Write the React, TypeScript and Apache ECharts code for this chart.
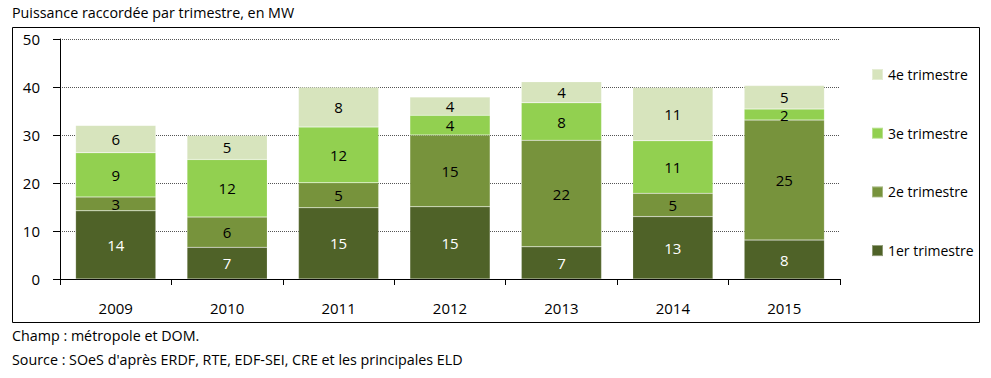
import React, { useEffect, useRef } from "react";
import * as echarts from "echarts";

const years = ["2009", "2010", "2011", "2012", "2013", "2014", "2015"];
const q1 = [14.2, 6.6, 14.85, 15.06, 6.7, 13.0, 8.1];
const q2 = [2.9, 6.3, 5.2, 14.94, 22.2, 4.85, 25.0];
const q3 = [9.2, 12.0, 11.6, 4.1, 7.8, 10.95, 2.3];
const q4 = [5.7, 5.0, 8.3, 3.8, 4.4, 11.1, 4.9];
const seriesNames = ["1er trimestre", "2e trimestre", "3e trimestre", "4e trimestre"];
const seriesColors = ["#4f6228", "#77933c", "#92d050", "#d7e4bd"];
const labelColors = ["#ffffff", "#000000", "#000000", "#000000"];
const yTicks = { min: 0, max: 50, interval: 10 };
const title = "Puissance raccordée par trimestre, en MW";
const note1 = "Champ : métropole et DOM.";
const note2 = "Source : SOeS d'après ERDF, RTE, EDF-SEI, CRE et les principales ELD";

const FONT = "'Open Sans', sans-serif";

export default function App() {
  const ref = useRef<HTMLDivElement>(null);
  useEffect(() => {
    if (!ref.current) return;
    const chart = echarts.init(ref.current, undefined, { renderer: "svg" });
    const data = [q1, q2, q3, q4];
    chart.setOption({
      animation: false,
      backgroundColor: "#ffffff",
      textStyle: { fontFamily: FONT },
      grid: { left: 60, right: 151, top: 39, bottom: 99, containLabel: false },
      legend: {
        orient: "vertical",
        left: 866,
        top: 62,
        itemWidth: 11,
        itemHeight: 11,
        itemGap: 43.7,
        icon: "rect",
        data: ["4e trimestre", "3e trimestre", "2e trimestre", "1er trimestre"],
        textStyle: { fontFamily: FONT, fontSize: 14, color: "#000", lineHeight: 15, padding: [0, 0, 0, 0] },
      },
      xAxis: {
        type: "category",
        data: years,
        axisLine: { lineStyle: { color: "#000", width: 1 } },
        axisTick: { show: true, length: 6, lineStyle: { color: "#000" } },
        axisLabel: { fontFamily: FONT, fontSize: 15, color: "#000", margin: 21 },
      },
      yAxis: {
        type: "value",
        min: yTicks.min,
        max: yTicks.max,
        interval: yTicks.interval,
        axisLine: { show: true, lineStyle: { color: "#000", width: 1 } },
        axisTick: { show: true, length: 7, lineStyle: { color: "#000" } },
        axisLabel: { fontFamily: FONT, fontSize: 15, color: "#000", margin: 20 },
        splitLine: { show: true, lineStyle: { color: "#555", type: "dotted", width: 1 } },
      },
      graphic: [
        {
          type: "rect",
          shape: { x: 12.5, y: 27.5, width: 967, height: 295 },
          style: { fill: "none", stroke: "#000", lineWidth: 1 },
          silent: true,
        },
        {
          type: "text",
          x: 12,
          y: 5,
          style: { text: title, fontFamily: FONT, fontSize: 14.3, fill: "#000" },
        },
        {
          type: "text",
          x: 12,
          y: 328,
          style: { text: note1, fontFamily: FONT, fontSize: 14.3, fill: "#000" },
        },
        {
          type: "text",
          x: 12,
          y: 352,
          style: { text: note2, fontFamily: FONT, fontSize: 14.3, fill: "#000" },
        },
      ],
      series: seriesNames.map((name, i) => ({
        name,
        type: "bar",
        stack: "total",
        barWidth: "72%",
        data: data[i],
        itemStyle: { color: seriesColors[i], borderColor: "rgba(255,255,255,0.35)", borderWidth: 0.5 },
        label: {
          show: true,
          position: "inside",
          fontFamily: FONT,
          fontSize: 15,
          color: labelColors[i],
          formatter: (p: any) => String(Math.round(p.value)),
        },
      })),
    });
    return () => chart.dispose();
  }, []);
  return (
    <div
      ref={ref}
      style={{ position: "fixed", left: 0, top: 0, width: 991, height: 378 }}
    />
  );
}
